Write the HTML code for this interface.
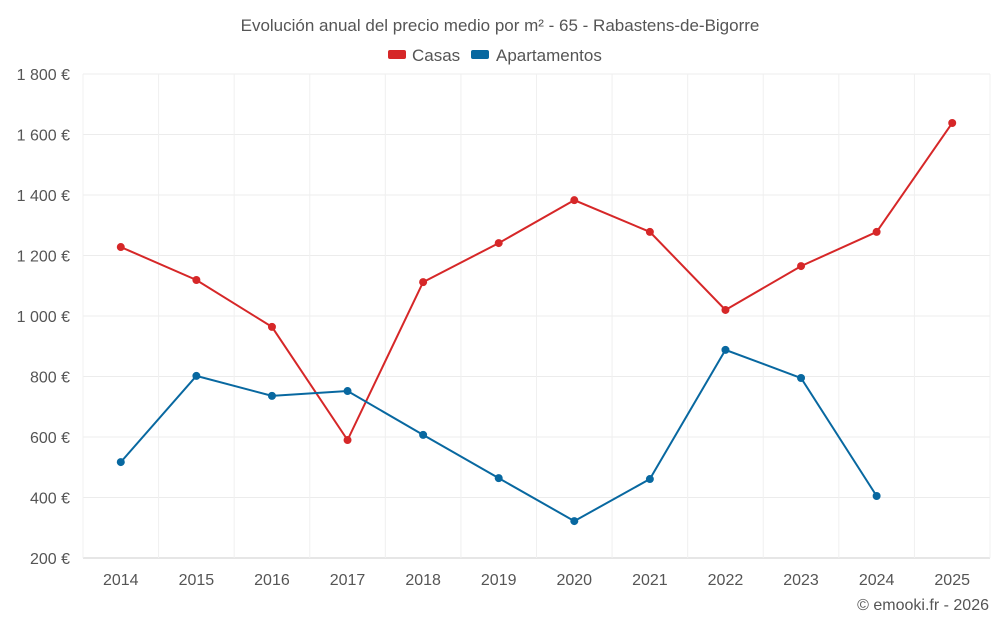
<!DOCTYPE html>
<html><head><meta charset="utf-8">
<style>
body{margin:0;background:#fff;font-family:"Liberation Sans",sans-serif;}
svg text{font-family:"Liberation Sans",sans-serif;fill:#555;}
</style></head>
<body>
<svg id="chart" width="1000" height="625" viewBox="0 0 1000 625" xmlns="http://www.w3.org/2000/svg">
<text x="500" y="31" text-anchor="middle" font-size="17">Evolución anual del precio medio por m² - 65 - Rabastens-de-Bigorre</text>
<g>
<g><rect x="388" y="50" width="18" height="9" rx="2" fill="#d62728"/><text x="412" y="61" font-size="17">Casas</text></g>
<g><rect x="471" y="50" width="18" height="9" rx="2" fill="#0868a0"/><text x="496" y="61" font-size="17">Apartamentos</text></g>
</g>
<g id="grid"></g><g id="axes"></g><g id="series"></g>
<text x="989" y="610" text-anchor="end" font-size="16">© emooki.fr - 2026</text>
</svg>
<script>
const years=[2014,2015,2016,2017,2018,2019,2020,2021,2022,2023,2024,2025];
const casas=[1228,1119,964,590,1112,1241,1383,1278,1020,1165,1278,1638];
const apartamentos=[517,802,736,752,607,464,322,461,888,795,405,null];
const yTicks=[200,400,600,800,1000,1200,1400,1600,1800];
const L=83,R=990,T=74,B=558,ymin=200,ymax=1800;
const bw=(R-L)/years.length;
const x=i=>L+bw*(i+0.5);
const y=v=>B-(v-ymin)/(ymax-ymin)*(B-T);
const NS="http://www.w3.org/2000/svg";
function mk(tag,attrs,parent){const e=document.createElementNS(NS,tag);for(const k in attrs)e.setAttribute(k,attrs[k]);parent.appendChild(e);return e;}
const grid=document.getElementById('grid'),axes=document.getElementById('axes'),series=document.getElementById('series');
yTicks.forEach(t=>{
 const g=mk('line',{x1:L,x2:R,y1:y(t),y2:y(t),stroke:t===ymin?'#ccc':'#ececec'},grid);
 
 
 const lb=mk('text',{x:70,y:y(t)+6,'text-anchor':'end','font-size':'16'},axes);
 lb.textContent=t.toLocaleString('fr-FR').replace(/\s/g,' ')+' €';
 
 
});
for(let i=0;i<=years.length;i++){
 const v=mk('line',{x1:L+bw*i,x2:L+bw*i,y1:T,y2:B,stroke:'#f0f0f0'},grid);
 
 
}
years.forEach((yr,i)=>{
 const lb=mk('text',{x:x(i),y:585,'text-anchor':'middle','font-size':'16'},axes);
 lb.textContent=yr;
 
 
});
function draw(data,color,name){
 const pts=data.map((v,i)=>v==null?null:[x(i),y(v)]).filter(p=>p);
 const pl=mk('polyline',{points:pts.map(p=>p.join(',')).join(' '),fill:'none',stroke:color,'stroke-width':2},series);
 
 
 pts.forEach(p=>{
  const c=mk('circle',{cx:p[0],cy:p[1],r:4,fill:color},series);
  
  
 });
}
draw(casas,'#d62728','casas');
draw(apartamentos,'#0868a0','apartamentos');
</script>
</body></html>
